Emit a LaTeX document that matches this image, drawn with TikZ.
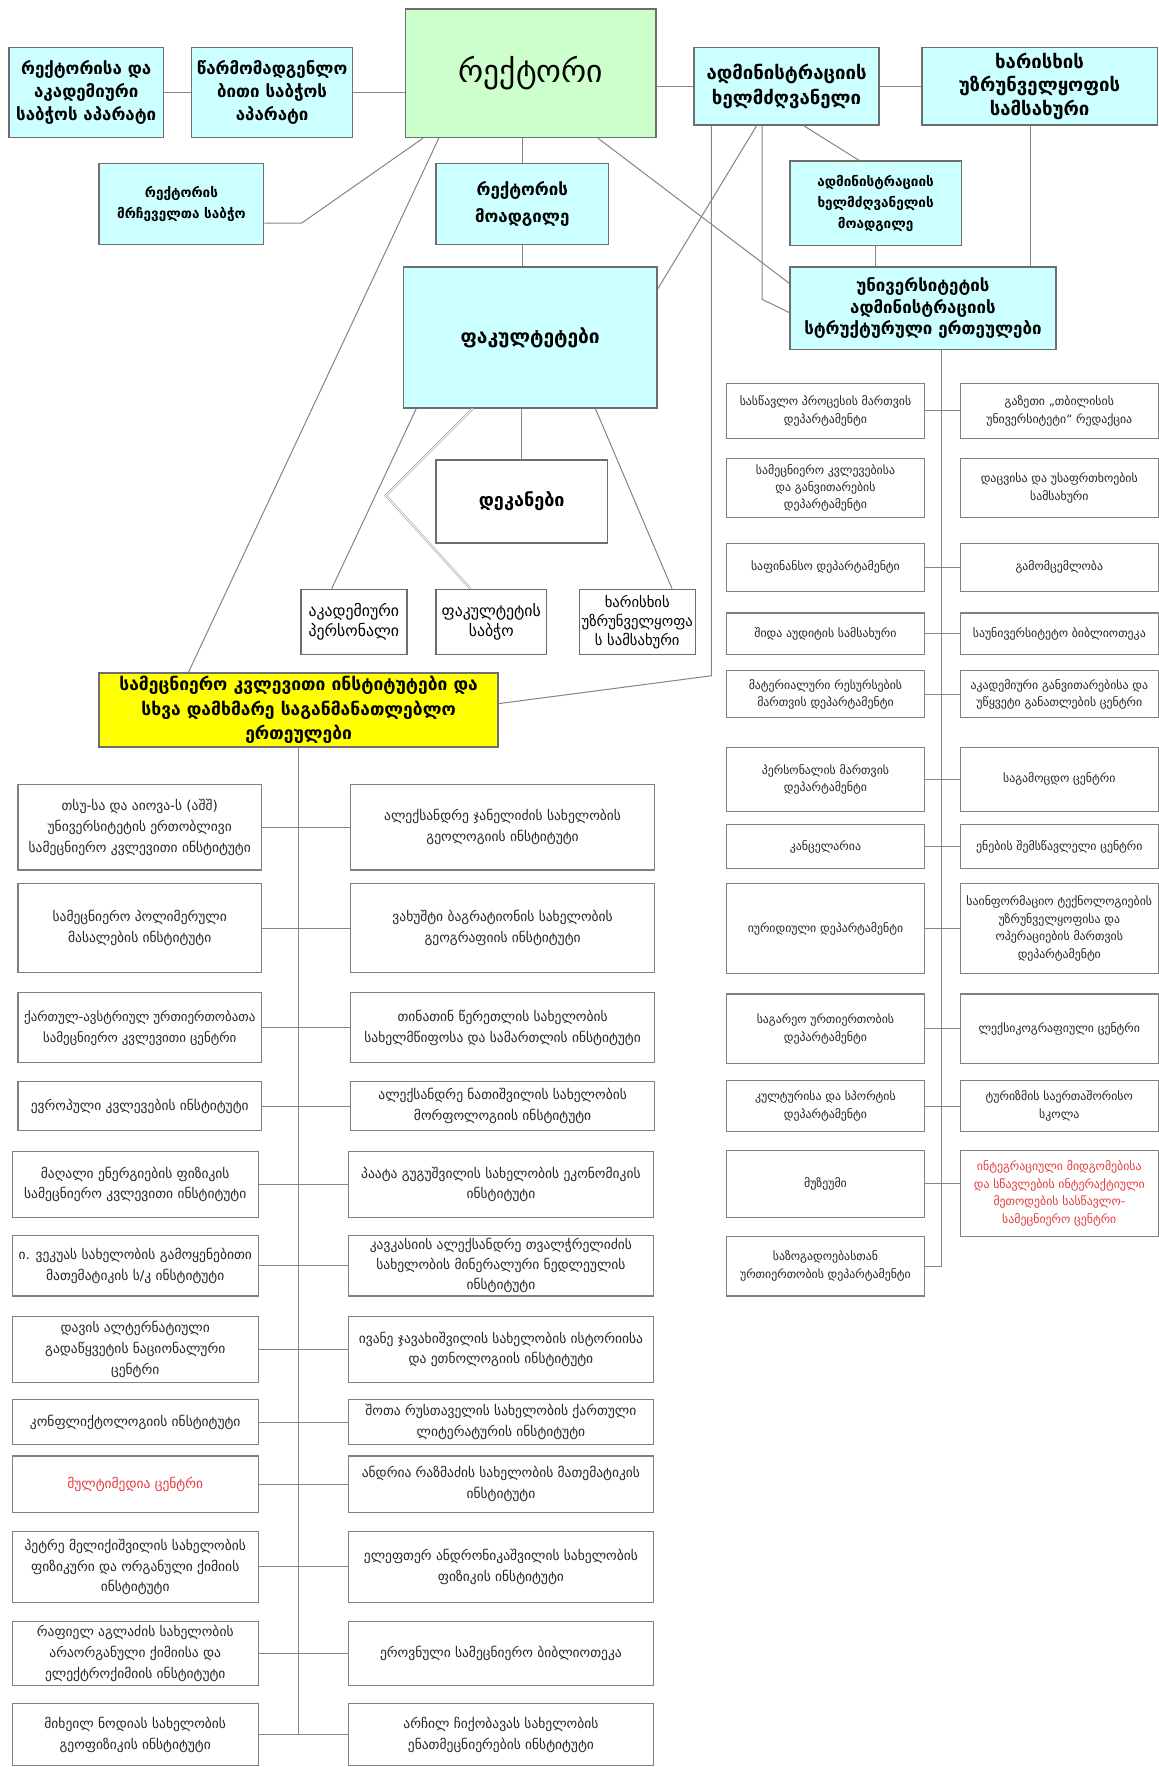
\documentclass[tikz,border=0pt]{standalone}
\usepackage{fontspec}
\setmainfont{DejaVu Sans}
\usetikzlibrary{calc}
\definecolor{boxcyan}{HTML}{CCFFFF}
\definecolor{boxgreen}{HTML}{CCFFCC}
\definecolor{boxyellow}{HTML}{FFFF00}
\definecolor{edgegray}{HTML}{858585}
\definecolor{framegray}{HTML}{6E6E6E}
\definecolor{txtred}{HTML}{E8393A}
\newcommand\fsmall{\fontsize{10.5}{15.5}\selectfont}
\newcommand\flist{\fontsize{12}{18.5}\selectfont}
\tikzset{
  sz/.style 2 args={minimum width=#1pt,minimum height=#2pt},
  unit/.style={draw=framegray,line width=1.3pt,align=center,inner sep=1pt},
  topbox/.style={unit,fill=boxcyan,font=\bfseries\fontsize{15}{20.5}\selectfont},
  subbox/.style={unit,fill=white,font=\fontsize{14}{18}\selectfont},
  deptbox/.style={unit,draw=gray,line width=1pt,fill=white,text=black!85,font=\fsmall},
  instbox/.style={unit,draw=gray,line width=1pt,fill=white,text=black!85,font=\flist},
  line/.style={draw=edgegray,line width=0.9pt},
  dbl/.style={draw=gray!70,double=white,double distance=0.8pt,line width=0.6pt}
}
\begin{document}
\begin{tikzpicture}[x=1pt,y=-1pt]
  \useasboundingbox (0,0) rectangle (1028,1568);
  % governing bodies
  \draw
    (76.5,82) node[topbox,sz={137}{80}] (A1) {რექტორისა და\\აკადემიური\\საბჭოს აპარატი}
    (241.5,82) node[topbox,sz={143}{80}] (A2) {წარმომადგენლო\\ბითი საბჭოს\\აპარატი}
    (471,65) node[unit,fill=boxgreen,sz={222}{114},font=\fontsize{28}{32}\selectfont] (R) {რექტორი}
    (698,76.5) node[topbox,sz={164}{69},font=\bfseries\fontsize{16.5}{22}\selectfont] (AH) {ადმინისტრაციის\\ხელმძღვანელი}
    (922.5,76.5) node[topbox,sz={209}{69},font=\bfseries\fontsize{16.5}{21}\selectfont] (Q) {ხარისხის\\უზრუნველყოფის\\სამსახური}
    (161,181) node[topbox,sz={146}{72},font=\bfseries\fontsize{12}{19}\selectfont] (RC) {რექტორის\\მრჩეველთა საბჭო}
    (463.5,181) node[topbox,sz={153}{72},font=\bfseries\fontsize{15}{24}\selectfont] (VR) {რექტორის\\მოადგილე}
    (777,180.5) node[topbox,sz={152}{75},font=\bfseries\fontsize{12}{19}\selectfont] (AD) {ადმინისტრაციის\\ხელმძღვანელის\\მოადგილე}
    (470.5,299.5) node[topbox,sz={225}{125},font=\bfseries\fontsize{17}{20}\selectfont] (F) {ფაკულტეტები}
    (819,273.5) node[topbox,sz={236}{73},font=\bfseries\fontsize{15}{19}\selectfont] (AU) {უნივერსიტეტის\\ადმინისტრაციის\\სტრუქტურული ერთეულები}
    (463,445) node[unit,fill=white,sz={152}{74},font=\bfseries\fontsize{16}{18}\selectfont] (D) {დეკანები}
    (314,552) node[subbox,sz={94}{58}] (S1) {აკადემიური\\პერსონალი}
    (436,552) node[subbox,sz={98}{58}] (S2) {ფაკულტეტის\\საბჭო}
    (565.5,552) node[subbox,sz={103}{58},font=\fontsize{13}{17}\selectfont] (S3) {ხარისხის\\უზრუნველყოფა\\ს სამსახური}
    (265,630) node[topbox,fill=boxyellow,sz={354}{66},font=\bfseries\fontsize{15.5}{21.5}\selectfont] (Y) {სამეცნიერო კვლევითი ინსტიტუტები და\\სხვა დამხმარე საგანმანათლებლო\\ერთეულები};
  % administrative units
  \draw
    (732.5,364.5) node[deptbox,sz={175}{49}] (RL1) {სასწავლო პროცესის მართვის\\დეპარტამენტი}
    (940,364.5) node[deptbox,sz={176}{49}] (RR1) {გაზეთი „თბილისის\\უნივერსიტეტი“ რედაქცია}
    (732.5,433) node[deptbox,sz={175}{52}] (RL2) {სამეცნიერო კვლევებისა\\და განვითარების\\დეპარტამენტი}
    (940,433) node[deptbox,sz={176}{52}] (RR2) {დაცვისა და უსაფრთხოების\\სამსახური}
    (732.5,503.5) node[deptbox,sz={175}{43}] (RL3) {საფინანსო დეპარტამენტი}
    (940,503.5) node[deptbox,sz={176}{43}] (RR3) {გამომცემლობა}
    (732.5,562.5) node[deptbox,sz={175}{37}] (RL4) {შიდა აუდიტის სამსახური}
    (940,562.5) node[deptbox,sz={176}{37}] (RR4) {საუნივერსიტეტო ბიბლიოთეკა}
    (732.5,616) node[deptbox,sz={175}{42}] (RL5) {მატერიალური რესურსების\\მართვის დეპარტამენტი}
    (940,616) node[deptbox,sz={176}{42}] (RR5) {აკადემიური განვითარებისა და\\უწყვეტი განათლების ცენტრი}
    (732.5,691.5) node[deptbox,sz={175}{57}] (RL6) {პერსონალის მართვის\\დეპარტამენტი}
    (940,691.5) node[deptbox,sz={176}{57}] (RR6) {საგამოცდო ცენტრი}
    (732.5,751.5) node[deptbox,sz={175}{39}] (RL7) {კანცელარია}
    (940,751.5) node[deptbox,sz={176}{39}] (RR7) {ენების შემსწავლელი ცენტრი}
    (732.5,824) node[deptbox,sz={175}{80}] (RL8) {იურიდიული დეპარტამენტი}
    (940,824) node[deptbox,sz={176}{80}] (RR8) {საინფორმაციო ტექნოლოგიების\\უზრუნველყოფისა და\\ოპერაციების მართვის\\დეპარტამენტი}
    (732.5,913) node[deptbox,sz={175}{62}] (RL9) {საგარეო ურთიერთობის\\დეპარტამენტი}
    (940,913) node[deptbox,sz={176}{62}] (RR9) {ლექსიკოგრაფიული ცენტრი}
    (732.5,981.5) node[deptbox,sz={175}{45}] (RL10) {კულტურისა და სპორტის\\დეპარტამენტი}
    (940,981.5) node[deptbox,sz={176}{45}] (RR10) {ტურიზმის საერთაშორისო\\სკოლა}
    (732.5,1050.5) node[deptbox,sz={175}{59}] (RL11) {მუზეუმი}
    (940,1059) node[deptbox,sz={176}{76},text=txtred] (RR11) {ინტეგრაციული მიდგომებისა\\და სწავლების ინტერაქტიული\\მეთოდების სასწავლო-\\სამეცნიერო ცენტრი}
    (732.5,1123.5) node[deptbox,sz={175}{53}] (RL12) {საზოგადოებასთან\\ურთიერთობის დეპარტამენტი};
  % research institutes
  \draw
    (124,734) node[instbox,sz={216}{76}] (LL1) {თსუ-სა და აიოვა-ს (აშშ)\\უნივერსიტეტის ერთობლივი\\სამეცნიერო კვლევითი ინსტიტუტი}
    (446,734) node[instbox,sz={270}{76}] (LR1) {ალექსანდრე ჯანელიძის სახელობის\\გეოლოგიის ინსტიტუტი}
    (124,823.5) node[instbox,sz={216}{79}] (LL2) {სამეცნიერო პოლიმერული\\მასალების ინსტიტუტი}
    (446,823.5) node[instbox,sz={270}{79}] (LR2) {ვახუშტი ბაგრატიონის სახელობის\\გეოგრაფიის ინსტიტუტი}
    (124,912) node[instbox,sz={216}{62},font=\fontsize{11.5}{18.5}\selectfont] (LL3) {ქართულ-ავსტრიულ ურთიერთობათა\\სამეცნიერო კვლევითი ცენტრი}
    (446,912) node[instbox,sz={270}{62}] (LR3) {თინათინ წერეთლის სახელობის\\სახელმწიფოსა და სამართლის ინსტიტუტი}
    (124,981.5) node[instbox,sz={216}{43}] (LL4) {ევროპული კვლევების ინსტიტუტი}
    (446,981.5) node[instbox,sz={270}{43}] (LR4) {ალექსანდრე ნათიშვილის სახელობის\\მორფოლოგიის ინსტიტუტი}
    (120,1051) node[instbox,sz={218}{58}] (LL5) {მაღალი ენერგიების ფიზიკის\\სამეცნიერო კვლევითი ინსტიტუტი}
    (444.5,1051) node[instbox,sz={271}{58}] (LR5) {პაატა გუგუშვილის სახელობის ეკონომიკის\\ინსტიტუტი}
    (120,1123) node[instbox,sz={218}{54}] (LL6) {ი. ვეკუას სახელობის გამოყენებითი\\მათემატიკის ს/კ ინსტიტუტი}
    (444.5,1123) node[instbox,sz={271}{54},font=\fontsize{12}{17.5}\selectfont] (LR6) {კავკასიის ალექსანდრე თვალჭრელიძის\\სახელობის მინერალური ნედლეულის\\ინსტიტუტი}
    (120,1197.5) node[instbox,sz={218}{59}] (LL7) {დავის ალტერნატიული\\გადაწყვეტის ნაციონალური\\ცენტრი}
    (444.5,1197.5) node[instbox,sz={271}{59}] (LR7) {ივანე ჯავახიშვილის სახელობის ისტორიისა\\და ეთნოლოგიის ინსტიტუტი}
    (120,1262) node[instbox,sz={218}{40}] (LL8) {კონფლიქტოლოგიის ინსტიტუტი}
    (444.5,1262) node[instbox,sz={271}{40}] (LR8) {შოთა რუსთაველის სახელობის ქართული\\ლიტერატურის ინსტიტუტი}
    (120,1317) node[instbox,sz={218}{50},text=txtred] (LL9) {მულტიმედია ცენტრი}
    (444.5,1317) node[instbox,sz={271}{50}] (LR9) {ანდრია რაზმაძის სახელობის მათემატიკის\\ინსტიტუტი}
    (120,1390.5) node[instbox,sz={218}{63}] (LL10) {პეტრე მელიქიშვილის სახელობის\\ფიზიკური და ორგანული ქიმიის\\ინსტიტუტი}
    (444.5,1390.5) node[instbox,sz={271}{63}] (LR10) {ელეფთერ ანდრონიკაშვილის სახელობის\\ფიზიკის ინსტიტუტი}
    (120,1467.5) node[instbox,sz={218}{57}] (LL11) {რაფიელ აგლაძის სახელობის\\არაორგანული ქიმიისა და\\ელექტროქიმიის ინსტიტუტი}
    (444.5,1467.5) node[instbox,sz={271}{57}] (LR11) {ეროვნული სამეცნიერო ბიბლიოთეკა}
    (120,1539.5) node[instbox,sz={218}{55}] (LL12) {მიხეილ ნოდიას სახელობის\\გეოფიზიკის ინსტიტუტი}
    (444.5,1539.5) node[instbox,sz={271}{55}] (LR12) {არჩილ ჩიქობავას სახელობის\\ენათმეცნიერების ინსტიტუტი};
  \begin{scope}[line]
    \draw (A1) to (A2);
    \draw (A2.east) to (A2.east -| R.west);
    \draw (AH.west) to (AH.west -| R.east);
    \draw (AH) to (Q);
    \draw ($(RC.east)+(0,17)$) -- ++(33,0) -- ($(R.south west)+(16,0)$);
    \draw ($(R.south west)+(30,0)$) to ($(Y.north west)+(80,0)$);
    \draw (VR.north |- R.south) to (VR.north);
    \draw (VR.south) to (VR.south |- F.north);
    \draw ($(R.south east)+(-52,0)$) to ($(AU.north west)+(0,15)$);
    \draw ($(AH.south west)+(98,0)$) to ($(AD.north west)+(62,0)$);
    \draw ($(AH.south west)+(61,0)$) -- ++(0,154) -- ($(AU.north west)+(0,41)$);
    \draw ($(AH.south west)+(56,0)$) to ($(F.north east)+(0,20)$);
    \draw ($(AH.south west)+(16,0)$) -- ++(0,488) -- ($(Y.north east)+(0,28)$);
    \draw (AD.south) to (AD.south |- AU.north);
    \draw ($(Q.south west)+(97,0)$) coordinate (qa) to (qa |- AU.north);
    % faculty level
    \draw ($(F.south west)+(12,0)$) to ($(S1.north west)+(28,0)$);
    \draw[dbl] ($(F.south west)+(62,0)$) -- ++(-77,77) -- ($(S2.north west)+(31,0)$);
    \draw (D.north |- F.south) to (D.north);
    \draw ($(F.south west)+(171,0)$) to ($(S3.north west)+(83,0)$);
    % administrative trunk
    \draw ($(AU.south west)+(135,0)$) |- (RL12.east);
    \draw (RL1) to (RR1);
    \draw (RL3) to (RR3);
    \draw (RL4) to (RR4);
    \draw (RL5) to (RR5);
    \draw (RL6) to (RR6);
    \draw (RL7) to (RR7);
    \draw (RL8) to (RR8);
    \draw (RL9) to (RR9);
    \draw (RL10) to (RR10);
    \draw (RL11.east) to (RL11.east -| RR11.west);
    % institutes trunk
    \draw (Y.south) to (Y.south |- LL12.east);
    \draw (LL1) to (LR1);
    \draw (LL2) to (LR2);
    \draw (LL3) to (LR3);
    \draw (LL4) to (LR4);
    \draw (LL5) to (LR5);
    \draw (LL6) to (LR6);
    \draw (LL7) to (LR7);
    \draw (LL8) to (LR8);
    \draw (LL9) to (LR9);
    \draw (LL10) to (LR10);
    \draw (LL11) to (LR11);
    \draw (LL12) to (LR12);
  \end{scope}
\end{tikzpicture}
\end{document}
